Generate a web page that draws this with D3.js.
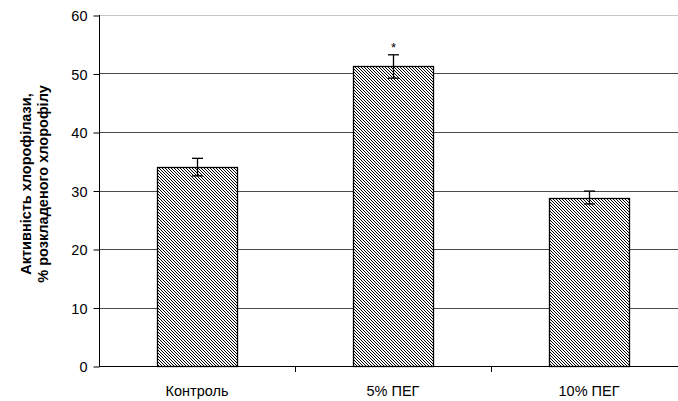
<!DOCTYPE html>
<html>
<head>
<meta charset="utf-8">
<script src="https://cdn.jsdelivr.net/npm/d3@7"></script>
<style>
  body { margin: 0; background: #fff; }
  svg { display: block; font-family: Arial, "Liberation Sans", sans-serif; }
</style>
</head>
<body>
<svg id="chart" width="678" height="401"></svg>
<script>
// Chlorophyllase activity under PEG treatment
const categories = ["Контроль", "5% ПЕГ", "10% ПЕГ"];
const values = [34.0, 51.2, 28.8];
const errors = [1.5, 2.0, 1.1];
const marks = ["", "*", ""];
const yTicks = [0, 10, 20, 30, 40, 50, 60];
const yTitle = ["Активність хлорофілази,", "% розкладеного хлорофілу"];

const svg = d3.select("#chart");
const margin = { left: 99, top: 15, plotRight: 687, bottom: 366 };

const x = d3.scaleBand()
  .domain(categories)
  .range([margin.left, margin.plotRight])
  .paddingInner(0.59)
  .paddingOuter(0.295);

const y = d3.scaleLinear()
  .domain([0, 60])
  .range([margin.bottom, margin.top]);

// Diagonal hatch fill: 1px pixel diagonals, 3px period
const defs = svg.append("defs");
const pat = defs.append("pattern")
  .attr("id", "hatch")
  .attr("patternUnits", "userSpaceOnUse")
  .attr("width", 3).attr("height", 3);
pat.append("rect").attr("width", 3).attr("height", 3).attr("fill", "#fff");
[[0, 0], [1, 1], [2, 2]].forEach(([px, py]) => {
  pat.append("rect").attr("x", px).attr("y", py).attr("width", 1).attr("height", 1)
    .attr("fill", "#000").attr("shape-rendering", "crispEdges");
});

// Horizontal gridlines
svg.append("g")
  .selectAll("line")
  .data(yTicks.filter(d => d > 0))
  .join("line")
  .attr("x1", margin.left).attr("x2", 678)
  .attr("y1", d => Math.round(y(d)) + 0.5)
  .attr("y2", d => Math.round(y(d)) + 0.5)
  .attr("stroke", d => d === 60 ? "#c8c8c8" : "#4a4a4a")
  .attr("stroke-width", 1);

// Y axis
const yAxis = svg.append("g")
  .attr("transform", `translate(${margin.left + 0.5},0.5)`)
  .call(d3.axisLeft(y).tickValues(yTicks).tickSize(6).tickSizeOuter(0).tickPadding(6));
yAxis.select(".domain").attr("stroke", "#000").attr("d", `M0,${y(60) - 0.5}V${y(0)}`);
yAxis.selectAll(".tick line").attr("stroke", "#000");
yAxis.selectAll(".tick text")
  .attr("font-size", 14.5).attr("fill", "#000")
  .attr("dy", "0.36em");

// Bars
svg.append("g")
  .selectAll("rect")
  .data(categories)
  .join("rect")
  .attr("x", d => Math.round(x(d)) + 0.5)
  .attr("width", Math.round(x.bandwidth()))
  .attr("y", (d, i) => Math.round(y(values[i])) + 0.5)
  .attr("height", (d, i) => y(0) - Math.round(y(values[i])))
  .attr("fill", "url(#hatch)")
  .attr("stroke", "#000")
  .attr("stroke-width", 1.3);

// X axis
const xAxisLine = svg.append("g");
xAxisLine.append("line")
  .attr("x1", margin.left).attr("x2", 678)
  .attr("y1", y(0) + 0.5).attr("y2", y(0) + 0.5)
  .attr("stroke", "#000");
const step = x.step();
xAxisLine.selectAll("line.tick")
  .data(categories.slice(1))
  .join("line")
  .attr("class", "tick")
  .attr("x1", d => Math.round(x(d) - step * x.paddingInner() / 2) + 0.5)
  .attr("x2", d => Math.round(x(d) - step * x.paddingInner() / 2) + 0.5)
  .attr("y1", y(0)).attr("y2", y(0) + 6)
  .attr("stroke", "#000");
xAxisLine.selectAll("text")
  .data(categories)
  .join("text")
  .attr("x", d => x(d) + x.bandwidth() / 2)
  .attr("y", 396)
  .attr("text-anchor", "middle")
  .attr("font-size", 14.5)
  .text(d => d);

// Error bars
const eb = svg.append("g").attr("stroke", "#000").attr("stroke-width", 1.3);
categories.forEach((c, i) => {
  const cx = Math.round(x(c) + x.bandwidth() / 2) + 0.5;
  const top = y(values[i] + errors[i]);
  const bot = y(values[i] - errors[i]);
  eb.append("line").attr("x1", cx).attr("x2", cx).attr("y1", top).attr("y2", bot);
  eb.append("line").attr("x1", cx - 5.5).attr("x2", cx + 5.5).attr("y1", top).attr("y2", top);
  eb.append("line").attr("x1", cx - 5.5).attr("x2", cx + 5.5).attr("y1", bot).attr("y2", bot);
  if (marks[i]) {
    svg.append("text")
      .attr("x", cx).attr("y", top - 3)
      .attr("text-anchor", "middle")
      .attr("font-size", 13)
      .text(marks[i]);
  }
});

// Y axis title
const title = svg.append("text")
  .attr("transform", "translate(0,184) rotate(-90)")
  .attr("text-anchor", "middle")
  .attr("font-size", 14.5)
  .attr("font-weight", "bold");
title.selectAll("tspan")
  .data(yTitle)
  .join("tspan")
  .attr("x", 0)
  .attr("y", (d, i) => 31 + i * 17)
  .text(d => d);
</script>
</body>
</html>
